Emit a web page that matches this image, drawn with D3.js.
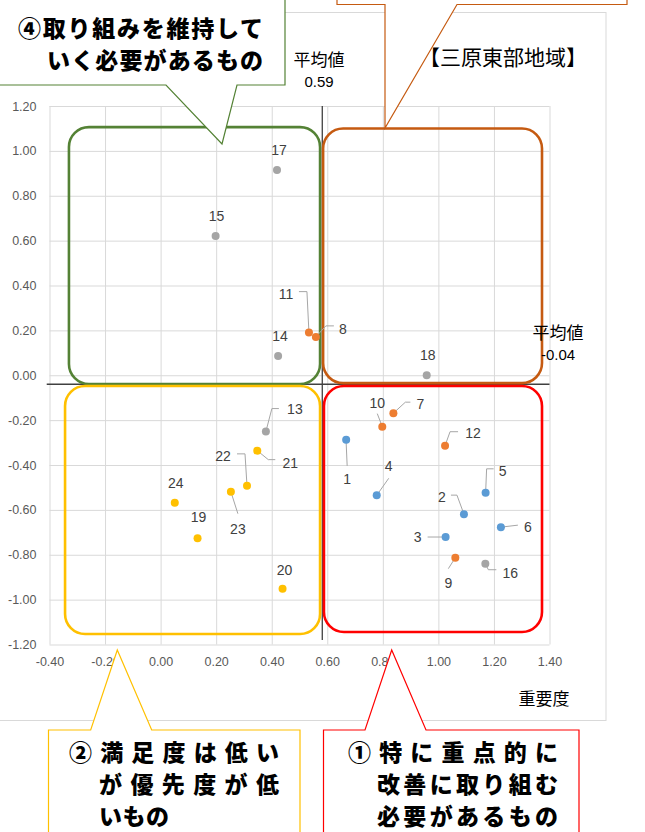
<!DOCTYPE html>
<html>
<head>
<meta charset="utf-8">
<script src="https://cdn.jsdelivr.net/npm/d3@7/dist/d3.min.js"></script>
<style>
  html, body { margin: 0; padding: 0; background: #fff; }
  svg { display: block; }
  .tick-label { font-family: "Liberation Sans", Arial, sans-serif; font-size: 12.5px; fill: #595959; }
  .pt-label { font-family: "Liberation Sans", Arial, sans-serif; font-size: 14px; fill: #404040; }
  .jp { font-family: "Noto Sans CJK JP", sans-serif; fill: #000; }
  .callout-text { font-family: "Noto Sans CJK JP", sans-serif; font-weight: 900; font-size: 23px; fill: #000; }
</style>
</head>
<body>
<svg id="chart" width="645" height="832"></svg>
<script>
// survey items: 1..24
var itemIds = [1, 2, 3, 4, 5, 6, 7, 8, 9, 10, 11, 12, 13, 14, 15, 16, 17, 18, 19, 20, 21, 22, 23, 24];
// 重要度 (x)
var importance = [0.668, 1.092, 1.026, 0.778, 1.170, 1.225, 0.838, 0.559, 1.061, 0.798, 0.534, 1.024,
                  0.379, 0.423, 0.198, 1.169, 0.419, 0.958, 0.133, 0.439, 0.348, 0.311, 0.253, 0.051];
// 満足度 (y)
var satisfaction = [-0.288, -0.619, -0.721, -0.535, -0.524, -0.677, -0.169, 0.171, -0.813, -0.229, 0.190, -0.314,
                    -0.251, 0.086, 0.621, -0.840, 0.915, 0.000, -0.727, -0.951, -0.336, -0.493, -0.519, -0.568];
// series index of each item
var itemSeries = [0, 0, 0, 0, 0, 0, 1, 1, 1, 1, 1, 1, 2, 2, 2, 2, 2, 2, 3, 3, 3, 3, 3, 3];
var seriesColors = ['#5B9BD5', '#ED7D31', '#A5A5A5', '#FFC000'];

var xDomain = [-0.4, 1.4];
var yDomain = [-1.2, 1.2];
var avgImportance = 0.582;
var avgImportanceLabel = '0.59';
var avgSatisfaction = -0.04;
var avgSatisfactionLabel = '-0.04';

var chartTitle = '【三原東部地域】';
var xTitle = '重要度';
var avgTitle = '平均値';

// quadrant frames, in data units
var quadrants = [
  {x0: -0.33, x1: 0.574, y0: 1.106, y1: -0.039, color: '#548235'},
  {x0: 0.585, x1: 1.373, y0: 1.100, y1: -0.035, color: '#C55A11'},
  {x0: -0.344, x1: 0.574, y0: -0.048, y1: -1.153, color: '#FFC000'},
  {x0: 0.588, x1: 1.373, y0: -0.048, y1: -1.144, color: '#FF0000'}
];

// label placement (px offset from point) and leader lines
var labelLayout = {
  1: {dx: 1, dy: 39, leader: [[0, 3], [1, 26]]},
  2: {dx: -22, dy: -17, leader: [[0, 0], [-7, -19], [-13, -19]]},
  3: {dx: -28, dy: 0, leader: [[0, 0], [-18, 0]]},
  4: {dx: 12, dy: -29, leader: [[0, 0], [12, -17]]},
  5: {dx: 17, dy: -22, leader: [[0, 0], [1, -24], [8, -24]]},
  6: {dx: 27, dy: 0, leader: [[0, 0], [17, -2]]},
  7: {dx: 27, dy: -9, leader: [[0, 0], [12, -11], [17, -11]]},
  8: {dx: 27, dy: -8, leader: [[0, 0], [10, -11], [18, -11]]},
  9: {dx: -7, dy: 25, leader: [[0, 0], [-7, 11]]},
  10: {dx: -5, dy: -24, leader: [[0, 0], [-5, -13]]},
  11: {dx: -23, dy: -39, leader: [[0, 0], [-2, -41], [-10, -41]]},
  12: {dx: 28, dy: -13, leader: [[0, 0], [5, -14], [13, -14]]},
  13: {dx: 29, dy: -22, leader: [[0, 0], [6, -23], [13, -23]]},
  14: {dx: 2, dy: -20},
  15: {dx: 1, dy: -20},
  16: {dx: 25, dy: 9, leader: [[0, 0], [3, 6], [11, 6]]},
  17: {dx: 2, dy: -20},
  18: {dx: 1, dy: -20},
  19: {dx: 1, dy: -21},
  20: {dx: 2, dy: -19},
  21: {dx: 33, dy: 12, leader: [[0, 0], [11, 9], [18, 9]]},
  22: {dx: -24, dy: -30, leader: [[0, 0], [-2, -32], [-10, -32]]},
  23: {dx: 7, dy: 37, leader: [[0, 0], [7, 22]]},
  24: {dx: 1, dy: -20}
};

var svg = d3.select('#chart');

var x = d3.scaleLinear().domain(xDomain).range([49.5, 549.5]);
var y = d3.scaleLinear().domain(yDomain).range([644.5, 106]);
var fmt = function(d) { return (Math.abs(d) < 1e-9 ? 0 : d).toFixed(2); };

// chart area border
svg.append('rect')
  .attr('x', -2).attr('y', 12.5)
  .attr('width', 608).attr('height', 708)
  .attr('fill', '#fff')
  .attr('stroke', '#D9D9D9')
  .attr('stroke-width', 1);

// gridlines + tick labels
var plotH = y(yDomain[0]) - y(yDomain[1]);
var plotW = x(xDomain[1]) - x(xDomain[0]);

var gx = svg.append('g')
  .attr('transform', 'translate(0,' + y(yDomain[0]) + ')')
  .call(d3.axisBottom(x).ticks(9).tickSize(-plotH).tickPadding(12).tickFormat(fmt));
var gy = svg.append('g')
  .attr('transform', 'translate(' + x(xDomain[0]) + ',0)')
  .call(d3.axisLeft(y).ticks(12).tickSize(-plotW).tickPadding(13).tickFormat(fmt));

[gx, gy].forEach(function(g) {
  g.select('.domain').remove();
  g.selectAll('.tick line').attr('stroke', '#D9D9D9').attr('stroke-width', 1);
  g.selectAll('.tick text').attr('class', 'tick-label').attr('font-size', null).attr('font-family', null).attr('fill', null);
});
gx.selectAll('.tick text').attr('dy', '0.35em').attr('y', 17.5);

// average lines
svg.append('line')
  .attr('x1', x(avgImportance)).attr('x2', x(avgImportance))
  .attr('y1', y(yDomain[1])).attr('y2', y(-1.18))
  .attr('stroke', '#404040').attr('stroke-width', 1.3);
svg.append('line')
  .attr('x1', x(-0.41)).attr('x2', x(xDomain[1]))
  .attr('y1', y(avgSatisfaction)).attr('y2', y(avgSatisfaction))
  .attr('stroke', '#404040').attr('stroke-width', 1.3);

// quadrant frames
svg.append('g')
  .selectAll('rect')
  .data(quadrants)
  .enter()
  .append('rect')
  .attr('x', function(d) { return x(d.x0); })
  .attr('y', function(d) { return y(d.y0); })
  .attr('width', function(d) { return x(d.x1) - x(d.x0); })
  .attr('height', function(d) { return y(d.y1) - y(d.y0); })
  .attr('rx', 20).attr('ry', 20)
  .attr('fill', 'none')
  .attr('stroke', function(d) { return d.color; })
  .attr('stroke-width', 2.6);

// points
var points = itemIds.map(function(id, i) {
  return {id: id, x: importance[i], y: satisfaction[i], s: itemSeries[i]};
});

var line = d3.line();
svg.append('g')
  .selectAll('path')
  .data(points.filter(function(d) { return labelLayout[d.id].leader; }))
  .enter()
  .append('path')
  .attr('d', function(d) {
    var px = x(d.x), py = y(d.y);
    return line(labelLayout[d.id].leader.map(function(p) { return [px + p[0], py + p[1]]; }));
  })
  .attr('fill', 'none')
  .attr('stroke', '#A6A6A6')
  .attr('stroke-width', 1);

svg.append('g')
  .selectAll('circle')
  .data(points)
  .enter()
  .append('circle')
  .attr('cx', function(d) { return x(d.x); })
  .attr('cy', function(d) { return y(d.y); })
  .attr('r', 4)
  .attr('fill', function(d) { return seriesColors[d.s]; });

svg.append('g')
  .selectAll('text')
  .data(points)
  .enter()
  .append('text')
  .attr('class', 'pt-label')
  .attr('text-anchor', 'middle')
  .attr('dy', '0.35em')
  .attr('x', function(d) { return x(d.x) + labelLayout[d.id].dx; })
  .attr('y', function(d) { return y(d.y) + labelLayout[d.id].dy; })
  .text(function(d) { return d.id; });

// titles
svg.append('text').attr('class', 'jp')
  .attr('x', 503).attr('y', 65).attr('text-anchor', 'middle')
  .attr('font-size', 21)
  .text(chartTitle);
svg.append('text').attr('class', 'jp')
  .attr('x', 544).attr('y', 705).attr('text-anchor', 'middle')
  .attr('font-size', 17)
  .text(xTitle);

function avgLabel(cx, cy, value) {
  svg.append('text').attr('class', 'jp')
    .attr('x', cx).attr('y', cy).attr('text-anchor', 'middle')
    .attr('font-size', 17)
    .text(avgTitle);
  svg.append('text').attr('class', 'pt-label')
    .attr('x', cx).attr('y', cy + 21).attr('text-anchor', 'middle')
    .style('font-size', '15px').style('fill', '#000')
    .text(value);
}
avgLabel(319, 66, avgImportanceLabel);
avgLabel(558, 339, avgSatisfactionLabel);

// callouts (box + pointer) drawn on top
var callouts = [
  {color: '#548235', d: 'M-5,-5 L285,-5 L285,85 L237,85 L222,144 L166,85 L-5,85 Z'},
  {color: '#C55A11', d: 'M337,-5 L337,4.5 L385,4.5 L385,128 L457,4.5 L627,4.5 L627,-5'},
  {color: '#FFC000', d: 'M48.5,840 L48.5,730 L90.7,730 L117.3,650 L151.7,730 L300,730 L300,840'},
  {color: '#FF0000', d: 'M323.5,840 L323.5,730 L365,730 L391.7,650 L426,730 L579,730 L579,840'}
];
svg.append('g')
  .selectAll('path')
  .data(callouts)
  .enter()
  .append('path')
  .attr('d', function(d) { return d.d; })
  .attr('fill', '#fff')
  .attr('stroke', function(d) { return d.color; })
  .attr('stroke-width', 1.2);

var calloutLines = [
  {t: '④取り組みを維持して', x: 18, y: 37, w: 245},
  {t: 'いく必要があるもの', x: 47, y: 69, w: 216},
  {t: '②満足度は低い', x: 69, y: 761, w: 210},
  {t: 'が優先度が低', x: 99, y: 793, w: 180},
  {t: 'いもの', x: 99, y: 825, w: 70},
  {t: '①特に重点的に', x: 348, y: 761, w: 210},
  {t: '改善に取り組む', x: 377, y: 793, w: 181},
  {t: '必要があるもの', x: 377, y: 825, w: 181}
];
svg.append('g')
  .selectAll('text')
  .data(calloutLines)
  .enter()
  .append('text')
  .attr('class', 'callout-text')
  .attr('x', function(d) { return d.x; })
  .attr('y', function(d) { return d.y; })
  .attr('textLength', function(d) { return d.w; })
  .attr('lengthAdjust', 'spacing')
  .text(function(d) { return d.t; });
</script>
</body>
</html>
